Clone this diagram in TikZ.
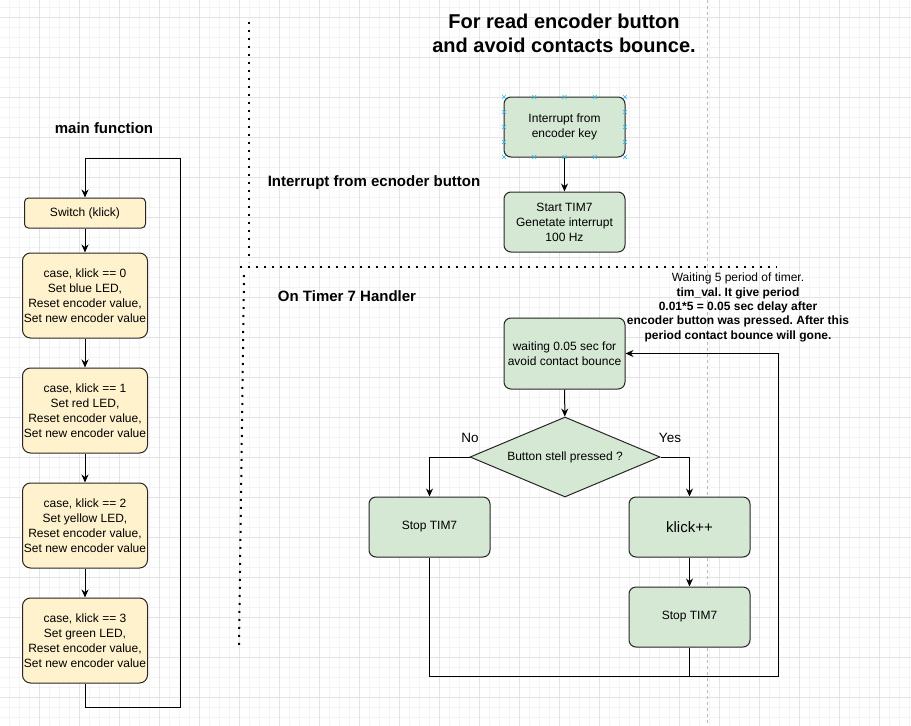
\documentclass[tikz,border=0pt]{standalone}
\usepackage{fontspec}
\setmainfont{Liberation Sans}
\usepackage{tikz}
\usetikzlibrary{arrows.meta,shapes.geometric}
\definecolor{yellowfill}{HTML}{FFF2CC}
\definecolor{greenfill}{HTML}{D5E8D4}
\definecolor{gridminor}{HTML}{F4F4F4}
\definecolor{gridmajor}{HTML}{E4E4E4}
\definecolor{handleblue}{HTML}{29B6F2}
\frenchspacing

\begin{document}
\begin{tikzpicture}[x=1pt,y=-1pt,line width=1pt,
  box/.style={draw=black!85,rounded corners=8pt,inner sep=0pt,align=center,font=\fontsize{12}{15}\selectfont},
  ybox/.style={box,fill=yellowfill,minimum width=125pt,minimum height=85pt},
  gbox/.style={box,fill=greenfill,minimum width=121pt,minimum height=60pt,rounded corners=7pt},
  arr/.style={-{Stealth[length=8pt,width=7pt]}},
  head/.style={font=\bfseries\fontsize{15}{18}\selectfont},
  dots/.style={line width=2pt,dash pattern=on 2pt off 6pt}]
\useasboundingbox (0,0) rectangle (911,726);
\foreach \gx in {9,19,...,909} \draw[gridminor] (\gx,0) -- (\gx,726);
\foreach \gy in {7,17,...,717} \draw[gridminor] (0,\gy) -- (911,\gy);
\foreach \gx in {39,79,...,879} \draw[gridmajor] (\gx,0) -- (\gx,726);
\foreach \gy in {17,57,...,697} \draw[gridmajor] (0,\gy) -- (911,\gy);
\draw[gray!55,dashed,line width=0.8pt] (707,0) -- (707,726);
\draw[dots] (249,22) -- (249,262);
\draw[dots] (240,267) -- (777,267);
\draw[dots] (244,275) -- (239,646);

\node[head] (mainlbl) at (104,128) {main function};
\node[box,fill=yellowfill,minimum width=121pt,minimum height=30pt,rounded corners=4pt] (sw) at (85,213) {Switch (klick)};
\node[ybox] (case0) at (85,295.5) {case, klick == 0\\Set blue LED,\\Reset encoder value,\\Set new encoder value};
\node[ybox] (case1) at (85,410.5) {case, klick == 1\\Set red LED,\\Reset encoder value,\\Set new encoder value};
\node[ybox] (case2) at (85,525.5) {case, klick == 2\\Set yellow LED,\\Reset encoder value,\\Set new encoder value};
\node[ybox] (case3) at (85,640.5) {case, klick == 3\\Set green LED,\\Reset encoder value,\\Set new encoder value};
\coordinate (mainloop) at (180,158);
\draw[arr] (sw.south) -- (case0.north);
\draw[arr] (case0.south) -- (case1.north);
\draw[arr] (case1.south) -- (case2.north);
\draw[arr] (case2.south) -- (case3.north);
\draw[arr] (case3.south) -- ++(0,24) -| (mainloop) -| (sw.north);

\node[font=\bfseries\fontsize{20}{24}\selectfont,align=center] (title) at (564,33) {For read encoder button\\and avoid contacts bounce.};
\node[head] (intlbl) at (374,183) {Interrupt from ecnoder button};
\node[head] (timlbl) at (347,296) {On Timer 7 Handler};
\node[gbox] (intkey) at (564.5,127) {Interrupt from\\encoder key};
\node[gbox] (starttim) at (564.5,222) {Start TIM7\\Genetate interrupt\\100 Hz};
\draw[arr] (intkey) -- (starttim);
\foreach \hx in {504,534.25,564.5,594.75,625}
  \foreach \hy in {97,157}
    \draw[handleblue,line width=0.6pt] (\hx-2,\hy-2) -- (\hx+2,\hy+2) (\hx-2,\hy+2) -- (\hx+2,\hy-2);
\foreach \hx in {504,625}
  \foreach \hy in {112,127,142}
    \draw[handleblue,line width=0.6pt] (\hx-2,\hy-2) -- (\hx+2,\hy+2) (\hx-2,\hy+2) -- (\hx+2,\hy-2);

\node[gbox,minimum height=71pt] (wait) at (564.5,353.5) {waiting 0.05 sec for\\avoid contact bounce};
\node[align=center,font=\fontsize{12}{14.3}\selectfont] (note) at (738,307.5) {Waiting 5 period of timer.\\\textbf{tim\_val. It give period}\\\textbf{0.01*5 = 0.05 sec delay after}\\\textbf{encoder button was pressed. After this}\\\textbf{period contact bounce will gone.}};
\node[diamond,draw=black!85,fill=greenfill,aspect=2.4,minimum width=190pt,minimum height=80pt,inner sep=0pt,font=\fontsize{12}{15}\selectfont] (btn) at (565,457) {Button stell pressed ?};
\node[font=\fontsize{13.5}{16}\selectfont] (nolbl) at (470,438) {No};
\node[font=\fontsize{13.5}{16}\selectfont] (yeslbl) at (670,438) {Yes};
\node[gbox] (stopl) at (429.5,527) {Stop TIM7};
\node[gbox,font=\fontsize{15}{18}\selectfont] (klick) at (689.5,527) {klick++};
\node[gbox] (stopr) at (689.5,617) {Stop TIM7};
\coordinate (timloop) at (778,676);
\draw[arr] (wait) -- (btn);
\draw[arr] (btn.west) -| (stopl.north);
\draw[arr] (btn.east) -| (klick.north);
\draw[arr] (klick) -- (stopr);
\draw[arr] (stopl.south) |- (timloop) |- (wait.east);
\draw (stopr.south) -- (stopr.south |- timloop);
\end{tikzpicture}
\end{document}
